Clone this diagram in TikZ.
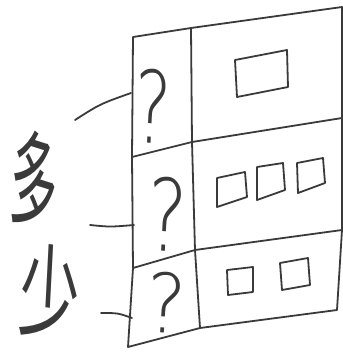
\documentclass[tikz,border=0pt]{standalone}
\usepackage{fontspec}
\newfontfamily\cjk{Noto Sans CJK SC}
\newfontface\qfont{DejaVu Sans ExtraLight}
\definecolor{inkc}{HTML}{3A3A3A}
\begin{document}
\begin{tikzpicture}[x=1pt,y=-1pt,
  ink/.style={draw=inkc, line width=1.8pt, line cap=round, line join=round},
  qmark/.style={inner sep=0pt, text=inkc, font=\qfont\fontsize{100}{100}\selectfont},
  hanzi/.style={inner sep=0pt, text=inkc, font=\cjk\fontsize{98}{98}\selectfont}]
\useasboundingbox (0,0) rectangle (343,354);
% outer frame
\coordinate (tl) at (133,37);
\coordinate (tm) at (191,28);
\coordinate (tr) at (342,7);
\coordinate (m1l) at (132,157);
\coordinate (m1m) at (192,142);
\coordinate (m1r) at (342,118);
\coordinate (m2l) at (133,268);
\coordinate (m2m) at (195,250);
\coordinate (m2r) at (342,230);
\coordinate (bl) at (128,347);
\coordinate (bm) at (200,328);
\coordinate (br) at (337,310);
\draw[ink] (tl) -- (tm) -- (tr) -- (m1r) -- (m2r) -- (br) -- (bm) -- (bl) -- (m2l) -- (m1l) -- cycle;
\draw[ink] (tm) -- (m1m) -- (m2m) -- (bm);
\draw[ink] (m1l) -- (m1m) -- (m1r);
\draw[ink] (m2l) -- (m2m) -- (m2r);
% question marks
\node[qmark, xscale=0.7, rotate=-4] (q1) at (153,106) {?};
\node[qmark, xscale=0.75, rotate=-4] (q2) at (167,214) {?};
\node[qmark, xscale=0.75, yscale=0.82, rotate=-4] (q3) at (166,303) {?};
% rectangles
\draw[ink] (235,60) -- (287,50) -- (288,87) -- (237,97) -- cycle;
\draw[ink] (217,178) -- (245,172) -- (247,197) -- (217,207) -- cycle;
\draw[ink] (257,167) -- (283,163) -- (285,190) -- (257,200) -- cycle;
\draw[ink] (297,163) -- (323,158) -- (325,183) -- (298,193) -- cycle;
\draw[ink] (227,270) -- (253,267) -- (253,292) -- (228,295) -- cycle;
\draw[ink] (280,263) -- (308,258) -- (310,285) -- (282,290) -- cycle;
% characters
\node[hanzi, xscale=0.48, yscale=1.08, rotate=-8] (duo) at (34,180) {多};
\node[hanzi, xscale=0.62, yscale=1.05, rotate=-5] (shao) at (50,292) {少};
% connectors
\coordinate (s1) at (75,120);
\coordinate (e1) at (131,93);
\coordinate (s2) at (90,225);
\coordinate (e2) at (134,225);
\coordinate (s3) at (101,313);
\coordinate (e3) at (132,318);
\draw[ink] (s1) .. controls (100,104) .. (e1);
\draw[ink] (s2) .. controls (110,227) .. (e2);
\draw[ink] (s3) .. controls (118,313) .. (e3);
\end{tikzpicture}
\end{document}
